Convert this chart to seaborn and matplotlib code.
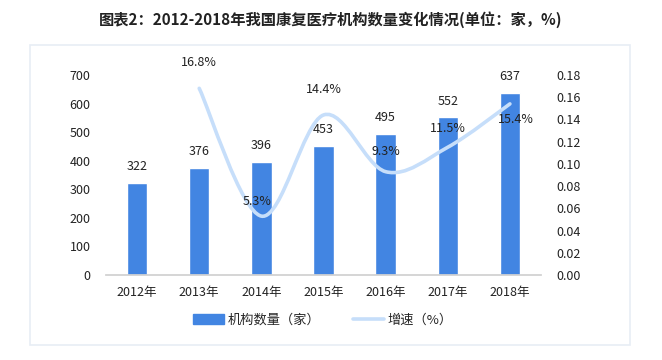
import numpy as np
import pandas as pd
import matplotlib
matplotlib.use('Agg')
import matplotlib.pyplot as plt
import seaborn as sns
from matplotlib.path import Path
from matplotlib.patches import PathPatch, Rectangle
from matplotlib.lines import Line2D

# data
years = ['2012年', '2013年', '2014年', '2015年', '2016年', '2017年', '2018年']
counts = [322, 376, 396, 453, 495, 552, 637]
growth_years = ['2013年', '2014年', '2015年', '2016年', '2017年', '2018年']
growth = [0.168, 0.053, 0.144, 0.093, 0.115, 0.154]
growth_labels = ['16.8%', '5.3%', '14.4%', '9.3%', '11.5%', '15.4%']

BAR = '#4285E2'
LINE = '#C6DEFA'

sns.set_theme(style='white')
plt.rcParams['font.family'] = ['Noto Sans CJK SC', 'DejaVu Sans']

df = pd.DataFrame({'year': years, 'count': counts})

fig = plt.figure(figsize=(6.62, 3.6), dpi=100)
# chart frame
fig.patches.append(Rectangle((30 / 662, 1 - 345 / 360), 600 / 662, 300 / 360,
                             transform=fig.transFigure, fill=False,
                             edgecolor='#E8EDF5', linewidth=1.2))
fig.text(0.5, 1 - 20 / 360, '图表2：2012-2018年我国康复医疗机构数量变化情况(单位：家，%)',
         ha='center', va='center', fontsize=11, fontweight='bold', color='#222222')

ax = fig.add_axes([106 / 662, 1 - 275 / 360, 435 / 662, 200 / 360])
sns.barplot(data=df, x='year', y='count', color=BAR, width=0.33, ax=ax,
            saturation=1)
ax.set_ylim(0, 700)
ax.set_yticks(range(0, 701, 100))
ax.set_xlim(-0.5, len(years) - 0.5)
ax.set_xlabel('')
ax.set_ylabel('')
for s in ['top', 'right', 'left']:
    ax.spines[s].set_visible(False)
ax.spines['bottom'].set_color('#D0D0D0')
ax.tick_params(axis='y', labelsize=9, colors='#222222', length=0, pad=11)
ax.tick_params(axis='x', labelsize=9, colors='#222222', length=0, pad=8)
for i, v in enumerate(counts):
    ax.annotate(str(v), (i, v), xytext=(0, 7), textcoords='offset points',
                ha='center', va='bottom', fontsize=9, color='#222222')

ax2 = ax.twinx()
ax2.set_ylim(0, 0.18)
ax2.set_yticks(np.arange(0, 0.181, 0.02))
ax2.yaxis.set_major_formatter(matplotlib.ticker.FormatStrFormatter('%.2f'))
for s in ['top', 'right', 'left', 'bottom']:
    ax2.spines[s].set_visible(False)
ax2.tick_params(axis='y', labelsize=9, colors='#222222', length=0, pad=11)

# smoothed growth line (Catmull-Rom -> cubic Bezier through the data points)
xs = [years.index(y) for y in growth_years]
pts = list(zip(xs, growth))
verts = [pts[0]]
codes = [Path.MOVETO]
for k in range(len(pts) - 1):
    p0 = pts[k - 1] if k > 0 else pts[k]
    p1, p2 = pts[k], pts[k + 1]
    p3 = pts[k + 2] if k + 2 < len(pts) else pts[k + 1]
    c1 = (p1[0] + (p2[0] - p0[0]) / 6, p1[1] + (p2[1] - p0[1]) / 6)
    c2 = (p2[0] - (p3[0] - p1[0]) / 6, p2[1] - (p3[1] - p1[1]) / 6)
    verts += [c1, c2, p2]
    codes += [Path.CURVE4] * 3
ax2.add_patch(PathPatch(Path(verts, codes), fill=False, edgecolor=LINE,
                        linewidth=2.6, capstyle='round'))
offsets = [(0, 14), (-3, 6), (0, 14), (0, 10), (0, 9), (4, -16)]
for x, v, lab, off in zip(xs, growth, growth_labels, offsets):
    ax2.annotate(lab, (x, v), xytext=off, textcoords='offset points',
                 ha='center', va='bottom', fontsize=9, color='#222222')

handles = [Rectangle((0, 0), 1, 1, color=BAR),
           Line2D([0], [0], color=LINE, linewidth=2.6)]
fig.legend(handles, ['机构数量（家）', '增速（%）'], loc='center',
           bbox_to_anchor=(323 / 662, 1 - 320 / 360), ncol=2, frameon=False,
           fontsize=9.5, handlelength=2.3, columnspacing=2.5,
           handletextpad=0.3)

fig.savefig('out.png', dpi=100, facecolor='white')
